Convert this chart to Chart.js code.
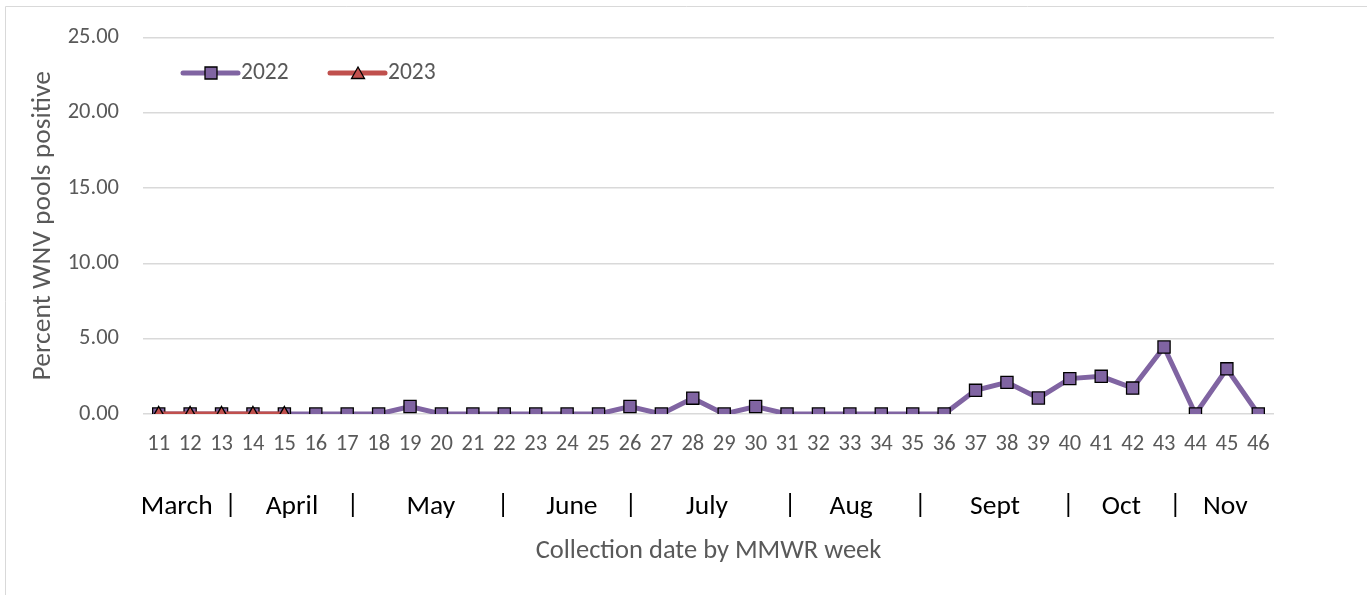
<!DOCTYPE html>
<html>
<head>
<meta charset="utf-8">
<script src="https://cdn.jsdelivr.net/npm/chart.js@4/dist/chart.umd.min.js"></script>
<style>
  html, body { margin: 0; padding: 0; background: #fff; overflow: hidden; }
  #wrap { position: absolute; left: 0; top: 0; width: 1367px; height: 595px; }
</style>
</head>
<body>
<div id="wrap"><canvas id="c" width="1367" height="595"></canvas></div>
<script>
// ---- data ----
const weeks = ["11","12","13","14","15","16","17","18","19","20","21","22","23","24","25","26","27","28","29","30","31","32","33","34","35","36","37","38","39","40","41","42","43","44","45","46"];
const values2022 = [0,0,0,0,0,0,0,0,0.5,0,0,0,0,0,0,0.5,0,1.05,0,0.5,0,0,0,0,0,0,1.57,2.1,1.06,2.35,2.5,1.72,4.45,0,3.0,0];
const values2023 = [0,0,0,0,0];
const seriesLabels = ["2022","2023"];
const monthLabels = ["March","April","May","June","July","Aug","Sept","Oct","Nov"];
const yTicks = [0,5,10,15,20,25];

const FONT = "Carlito, Calibri, 'Liberation Sans Narrow', 'DejaVu Sans Condensed', sans-serif";
const GRAY = '#595959';
const PURPLE = '#8064A2';
const RED = '#C0504D';

// layout constants (category-index positions of month text and separators)
const monthCenterIdx = [0.57, 4.24, 8.66, 13.15, 17.45, 22.04, 26.62, 30.64, 33.95];
const sepIdx = [2.29, 6.18, 10.96, 15.03, 20.1, 24.24, 28.95, 32.36];

function drawMarker(ctx, style, x, y, fill) {
  ctx.save();
  ctx.fillStyle = fill;
  ctx.strokeStyle = '#000';
  ctx.lineWidth = 1.3;
  ctx.beginPath();
  if (style === 'rect') {
    ctx.rect(x - 6, y - 6, 12, 12);
  } else {
    ctx.moveTo(x, y - 6);
    ctx.lineTo(x + 6.5, y + 5.5);
    ctx.lineTo(x - 6.5, y + 5.5);
    ctx.closePath();
  }
  ctx.fill();
  ctx.stroke();
  ctx.restore();
}

const decor = {
  id: 'decor',
  beforeDraw(chart) {
    const ctx = chart.ctx;
    ctx.save();
    ctx.strokeStyle = '#d9d9d9';
    ctx.lineWidth = 1;
    ctx.beginPath();
    ctx.moveTo(5.5, 600); ctx.lineTo(5.5, 6.5); ctx.lineTo(1400, 6.5);
    ctx.stroke();
    ctx.restore();
  },
  afterDraw(chart) {
    const ctx = chart.ctx;
    const xs = chart.scales.x;
    ctx.save();
    // month row
    ctx.font = '27.5px ' + FONT;
    ctx.fillStyle = '#000';
    ctx.textAlign = 'center';
    ctx.textBaseline = 'middle';
    monthLabels.forEach((m, i) => ctx.fillText(m, xs.getPixelForValue(monthCenterIdx[i]), 507));
    sepIdx.forEach(s => ctx.fillText('|', xs.getPixelForValue(s), 506));
    // legend
    const ly = 73;
    const items = [
      {x: 183, ds: chart.data.datasets[1]},
      {x: 330, ds: chart.data.datasets[0]}
    ];
    items.forEach(it => {
      ctx.strokeStyle = it.ds.borderColor;
      ctx.lineWidth = 5;
      ctx.lineCap = 'round';
      ctx.beginPath();
      ctx.moveTo(it.x, ly); ctx.lineTo(it.x + 55, ly);
      ctx.stroke();
      drawMarker(ctx, it.ds.pointStyle, it.x + 28, ly, it.ds.pointBackgroundColor);
      ctx.font = '23.5px ' + FONT;
      ctx.fillStyle = GRAY;
      ctx.textAlign = 'left';
      ctx.fillText(it.ds.label, it.x + 58, ly);
    });
    ctx.restore();
  }
};

new Chart(document.getElementById('c'), {
  type: 'line',
  data: {
    labels: weeks,
    datasets: [
      {
        label: seriesLabels[1],
        data: values2023,
        borderColor: RED,
        backgroundColor: RED,
        borderWidth: 5,
        pointStyle: 'triangle',
        pointRadius: 7.5,
        pointBackgroundColor: RED,
        pointBorderColor: '#000',
        pointBorderWidth: 1.4,
        tension: 0,
        order: 0
      },
      {
        label: seriesLabels[0],
        data: values2022,
        borderColor: PURPLE,
        backgroundColor: PURPLE,
        borderWidth: 5,
        pointStyle: 'rect',
        pointRadius: 8.6,
        pointBackgroundColor: PURPLE,
        pointBorderColor: '#000',
        pointBorderWidth: 1.3,
        tension: 0,
        order: 1
      }
    ]
  },
  options: {
    responsive: false,
    animation: false,
    events: [],
    layout: { padding: { top: 30, right: 93, left: 0, bottom: 0 } },
    plugins: { legend: { display: false }, tooltip: { enabled: false } },
    scales: {
      x: {
        offset: true,
        grid: { display: false, drawTicks: false },
        border: { display: false },
        ticks: { color: GRAY, font: { family: FONT, size: 22.5 }, padding: 17, maxRotation: 0, autoSkip: false },
        title: { display: true, text: 'Collection date by MMWR week', color: GRAY, font: { family: FONT, size: 26.5 }, padding: { bottom: 28, top: 0 } },
        afterFit(s) { s.height = 181; }
      },
      y: {
        min: 0, max: 25,
        afterBuildTicks(s) { s.ticks = yTicks.map(v => ({ value: v })); },
        grid: { color: '#d9d9d9', lineWidth: 1.5, drawTicks: false },
        border: { display: false },
        ticks: { color: GRAY, font: { family: FONT, size: 22.5 }, padding: 24, callback: v => Number(v).toFixed(2) },
        title: { display: true, text: 'Percent WNV pools positive', color: GRAY, font: { family: FONT, size: 27.5 }, padding: { top: 27, bottom: 0 } },
        afterFit(s) { s.width = 143; }
      }
    }
  },
  plugins: [decor]
});
</script>
</body>
</html>
